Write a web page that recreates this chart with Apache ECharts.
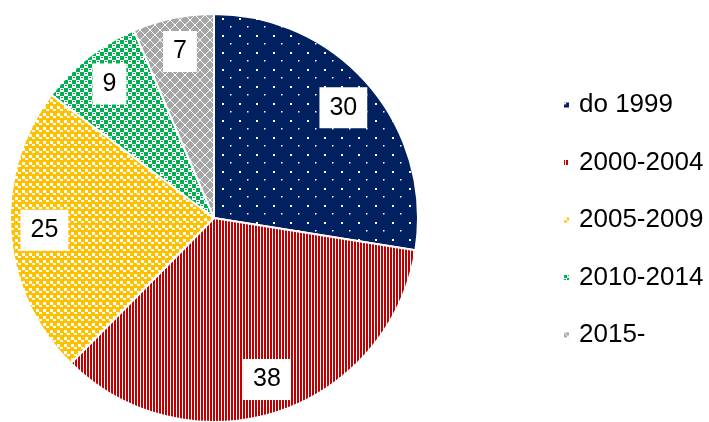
<!DOCTYPE html>
<html>
<head>
<meta charset="utf-8">
<script src="https://cdn.jsdelivr.net/npm/echarts@6/dist/echarts.min.js"></script>
<style>html,body{margin:0;padding:0;background:#fff;}#c{width:709px;height:422px;}</style>
</head>
<body>
<div id="c"></div>
<script>
var categories = ['do 1999', '2000-2004', '2005-2009', '2010-2014', '2015-'];
var values = [30, 38, 25, 9, 7];
var baseColors = ['#002060', '#C00000', '#FFC000', '#00B050', '#A6A6A6'];

function makeTile(w, h, draw) {
  var c = document.createElement('canvas');
  c.width = w; c.height = h;
  var ctx = c.getContext('2d');
  draw(ctx, w, h);
  return c;
}
var tiles = [
  makeTile(17, 17, function (ctx, w, h) {
    ctx.fillStyle = baseColors[0]; ctx.fillRect(0, 0, w, h);
    ctx.fillStyle = '#fff';
    ctx.fillRect(1, 1, 2, 2);
    ctx.fillRect(9, 9, 1.5, 1.5);
  }),
  makeTile(3, 4, function (ctx, w, h) {
    ctx.fillStyle = '#fff'; ctx.fillRect(0, 0, w, h);
    ctx.fillStyle = baseColors[1]; ctx.fillRect(0, 0, 2, h);
  }),
  makeTile(7, 7, function (ctx, w, h) {
    ctx.fillStyle = baseColors[2]; ctx.fillRect(0, 0, w, h);
    ctx.fillStyle = '#fff';
    ctx.fillRect(1, 1, 3, 3);
    ctx.fillRect(4, 4, 3, 2);
  }),
  makeTile(8, 8, function (ctx, w, h) {
    ctx.fillStyle = '#fff'; ctx.fillRect(0, 0, w, h);
    ctx.fillStyle = baseColors[3];
    ctx.fillRect(0, 0, 4, 4);
    ctx.fillRect(4, 4, 4, 4);
    ctx.fillRect(5, 1, 2, 1);
    ctx.fillRect(1, 5, 2, 1);
  }),
  makeTile(10, 10, function (ctx, w, h) {
    ctx.fillStyle = baseColors[4]; ctx.fillRect(0, 0, w, h);
    ctx.strokeStyle = '#fff'; ctx.lineWidth = 1;
    ctx.beginPath();
    ctx.moveTo(0, 0); ctx.lineTo(10, 10);
    ctx.moveTo(10, 0); ctx.lineTo(0, 10);
    ctx.stroke();
  })
];

var pieData = categories.map(function (name, i) {
  return {
    name: name,
    value: values[i],
    itemStyle: { color: { image: tiles[i], repeat: 'repeat' } }
  };
});
var labelData = categories.map(function (name, i) {
  return { name: name, value: values[i] };
});

var chart = echarts.init(document.getElementById('c'), null, { renderer: 'canvas' });
chart.setOption({
  animation: false,
  backgroundColor: '#fff',
  legend: {
    orient: 'vertical',
    left: 557,
    top: 87,
    itemWidth: 7,
    itemHeight: 7,
    itemGap: 31.5,
    icon: 'rect',
    data: categories,
    textStyle: { fontFamily: 'Liberation Sans, Arial', fontSize: 26, color: '#000', padding: [0, 0, 0, 4] }
  },
  series: [
    {
      type: 'pie',
      center: [214, 218],
      radius: [0, 204],
      startAngle: 90,
      clockwise: true,
      silent: true,
      label: { show: false },
      labelLine: { show: false },
      itemStyle: { borderColor: '#fff', borderWidth: 2 },
      data: pieData
    },
    {
      type: 'pie',
      center: [214, 218],
      radius: [130, 204],
      startAngle: 90,
      clockwise: true,
      silent: true,
      legendHoverLink: false,
      itemStyle: { color: 'rgba(0,0,0,0)', borderWidth: 0 },
      label: {
        show: true,
        position: 'inside',
        formatter: '{c}',
        fontFamily: 'Liberation Sans, Arial',
        fontSize: 25,
        color: '#000',
        backgroundColor: '#fff',
        padding: [8, 10, 8, 10]
      },
      labelLine: { show: false },
      data: labelData
    }
  ]
});
</script>
</body>
</html>
